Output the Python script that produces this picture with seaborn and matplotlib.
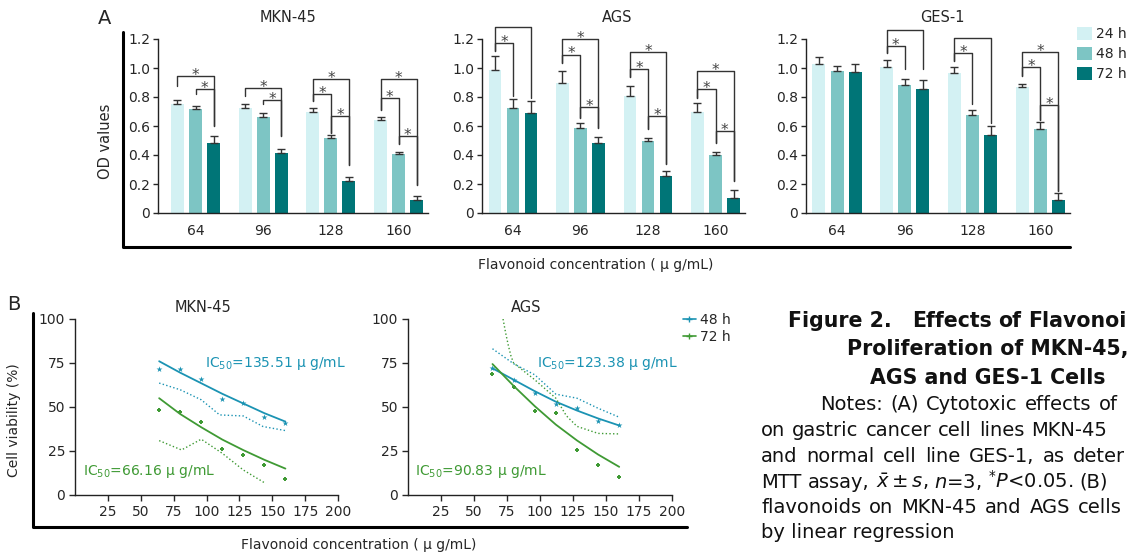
import numpy as np
import pandas as pd
import matplotlib
matplotlib.use('Agg')
import matplotlib.pyplot as plt
import seaborn as sns
from matplotlib.lines import Line2D

# ---- panel A data: OD values (rows = 24 h, 48 h, 72 h; cols = concentrations)
concs = ['64', '96', '128', '160']
times = ['24 h', '48 h', '72 h']
bar_colors = ['#d3f1f3', '#7dc5c4', '#007577']

mkn_od = [[0.754, 0.726, 0.700, 0.644],
          [0.720, 0.664, 0.520, 0.410],
          [0.483, 0.414, 0.223, 0.092]]
mkn_sd = [[0.026, 0.024, 0.024, 0.016],
          [0.020, 0.026, 0.018, 0.008],
          [0.047, 0.030, 0.025, 0.028]]
ags_od = [[0.983, 0.900, 0.805, 0.695],
          [0.722, 0.585, 0.496, 0.400],
          [0.693, 0.482, 0.256, 0.105]]
ags_sd = [[0.097, 0.080, 0.070, 0.062],
          [0.062, 0.039, 0.024, 0.020],
          [0.080, 0.041, 0.032, 0.053]]
ges_od = [[1.031, 1.008, 0.967, 0.871],
          [0.976, 0.880, 0.674, 0.578],
          [0.969, 0.857, 0.537, 0.091]]
ges_sd = [[0.043, 0.048, 0.039, 0.020],
          [0.037, 0.043, 0.037, 0.051],
          [0.057, 0.062, 0.063, 0.046]]

# significance brackets: (conc index, bar i, bar j, bracket height)
mkn_sig = [(0, 0, 2, 0.943), (0, 1, 2, 0.855), (1, 0, 2, 0.862), (1, 1, 2, 0.777),
           (2, 0, 2, 0.924), (2, 0, 1, 0.823), (2, 1, 2, 0.671),
           (3, 0, 2, 0.924), (3, 0, 1, 0.793), (3, 1, 2, 0.533)]
ags_sig = [(0, 0, 2, 1.282), (0, 0, 1, 1.173), (1, 0, 2, 1.200), (1, 0, 1, 1.093), (1, 1, 2, 0.731),
           (2, 0, 2, 1.109), (2, 0, 1, 0.994), (2, 1, 2, 0.670),
           (3, 0, 2, 0.978), (3, 0, 1, 0.853), (3, 1, 2, 0.567)]
ges_sig = [(1, 0, 2, 1.259), (1, 0, 1, 1.150), (2, 0, 2, 1.205), (2, 0, 1, 1.104),
           (3, 0, 2, 1.109), (3, 0, 1, 1.006), (3, 1, 2, 0.747)]
# lower end of bracket legs above each bar (per conc, per time)
mkn_leg = [[0.878, 0.823, 0.600], [0.805, 0.754, 0.529], [0.770, 0.552, 0.333], [0.713, 0.478, 0.195]]
ags_leg = [[1.115, 0.807, 0.795], [1.035, 0.658, 0.583], [0.939, 0.578, 0.338], [0.795, 0.482, 0.224]]
ges_leg = [[1.0, 1.0, 1.0], [1.104, 0.990, 0.990], [1.047, 0.750, 0.624], [0.944, 0.642, 0.149]]

# ---- panel B data: cell viability (%)
b_conc = [64, 80, 96, 112, 128, 144, 160]
mkn_v48 = [71.5, 71.5, 66.0, 54.5, 52.2, 44.6, 40.8]
mkn_v72 = [48.4, 47.4, 41.7, 26.2, 22.8, 17.1, 9.1]
mkn_fit48 = [76.0, 69.5, 63.5, 57.5, 52.0, 46.5, 41.7]
mkn_fit72 = [55.0, 46.0, 38.5, 31.5, 25.5, 20.0, 15.0]
mkn_ci48_x = [64, 80, 96, 110, 128, 143, 160]
mkn_ci48 = [63.6, 59.8, 54.1, 45.5, 44.9, 38.9, 36.6]
mkn_ci72_x = [64, 81, 96, 112, 128, 144]
mkn_ci72 = [30.9, 25.6, 31.7, 23.7, 14.2, 7.0]

ags_v48 = [72.1, 65.3, 57.9, 51.8, 49.3, 42.1, 39.7]
ags_v72 = [68.9, 61.3, 48.0, 46.5, 25.6, 17.1, 10.1]
ags_fit48 = [72.0, 65.5, 59.0, 53.0, 48.0, 43.5, 39.5]
ags_fit72 = [74.4, 62.0, 50.5, 40.0, 31.0, 23.0, 16.0]
ags_ci48_x = [64, 80, 96, 112, 128, 144, 160]
ags_ci48 = [83.1, 74.6, 68.3, 57.3, 55.0, 49.3, 44.2]
ags_ci72_x = [72, 74, 76, 78, 80, 96, 112, 120, 128, 144, 160]
ags_ci72 = [100, 92, 85, 79, 75, 65.5, 55, 45, 39, 35, 34.7]

blue = '#1b93b3'
green = '#3f9a34'

sns.set_style('ticks')
plt.rcParams['font.family'] = ['DejaVu Sans']
plt.rcParams['mathtext.fontset'] = 'dejavusans'

W, H = 1130, 558
fig = plt.figure(figsize=(W / 100, H / 100), dpi=100)
renderer = fig.canvas.get_renderer()


def box(l, r, t, b):
    return [l / W, 1 - b / H, (r - l) / W, (b - t) / H]


def bar_panel(rect, xlim, title, tx, od, sd, sig, leg, legend=False):
    ax = fig.add_axes(rect)
    df = pd.DataFrame({'conc': np.tile(concs, 3), 'time': np.repeat(times, 4),
                       'od': np.ravel(od)})
    sns.barplot(data=df, x='conc', y='od', hue='time', order=concs, hue_order=times,
                palette=bar_colors, saturation=1, width=0.8, gap=0.28, errorbar=None,
                linewidth=0, legend=legend, ax=ax)
    bar_sets = list(ax.containers)[:3]
    centers = [[p.get_x() + p.get_width() / 2 for p in cont] for cont in bar_sets]
    for h in range(3):
        ax.errorbar(centers[h], od[h], yerr=[np.zeros(4), sd[h]], fmt='none', ecolor='#333333',
                    elinewidth=1, capsize=3, capthick=1)
    for g, i, j, y in sig:
        xi, xj = centers[i][g], centers[j][g]
        ax.plot([xi, xi, xj, xj], [leg[g][i], y, y, leg[g][j]], color='#333333',
                lw=1, clip_on=False)
        ax.annotate('*', xy=((xi + xj) / 2, y), xytext=(0, -5), textcoords='offset points',
                    ha='center', va='bottom', fontsize=11, color='#444444')
    ax.set_xlim(xlim)
    ax.set_ylim(0, 1.2)
    ax.set_yticks([0, 0.2, 0.4, 0.6, 0.8, 1.0, 1.2])
    ax.set_yticklabels(['0', '0.2', '0.4', '0.6', '0.8', '1.0', '1.2'])
    ax.set_xlabel('')
    ax.set_ylabel('')
    ax.tick_params(axis='x', length=0, labelsize=10, pad=8)
    ax.tick_params(axis='y', length=3.5, width=1, labelsize=10, pad=2)
    sns.despine(ax=ax)
    for s in ['left', 'bottom']:
        ax.spines[s].set_color('#222222')
        ax.spines[s].set_linewidth(1)
    fig.text(tx / W, 1 - 18 / H, title, ha='center', va='center', fontsize=10.5)
    if legend:
        ax.legend(loc='upper left', bbox_to_anchor=(1077 / W, 1 - 27 / H),
                  bbox_transform=fig.transFigure, frameon=False, fontsize=10,
                  handlelength=1.1, handleheight=1.1, labelspacing=0.4,
                  handletextpad=0.3, borderaxespad=0, borderpad=0)
    return ax


bar_panel(box(158, 428, 39, 213), (-0.554, 3.434), 'MKN-45', 288, mkn_od, mkn_sd, mkn_sig, mkn_leg)
bar_panel(box(482, 745, 39, 213), (-0.459, 3.437), 'AGS', 617, ags_od, ags_sd, ags_sig, ags_leg)
bar_panel(box(806, 1070, 39, 213), (-0.458, 3.440), 'GES-1', 942, ges_od, ges_sd, ges_sig, ges_leg,
          legend=True)

fig.text(105 / W, 1 - 141 / H, 'OD values', rotation=90, ha='center', va='center', fontsize=10.5)
fig.text(596 / W, 1 - 265 / H, 'Flavonoid concentration ( μ g/mL)', ha='center', va='center',
         fontsize=10)
fig.text(105 / W, 1 - 19 / H, 'A', ha='center', va='center', fontsize=14)


def line_panel(rect, title, tx, v48, v72, f48, f72, c48x, c48, c72x, c72, ic48, ic72):
    ax = fig.add_axes(rect)
    sns.lineplot(x=b_conc, y=f48, color=blue, lw=1.3, ax=ax)
    sns.lineplot(x=b_conc, y=f72, color=green, lw=1.3, ax=ax)
    sns.lineplot(x=c48x, y=c48, color=blue, lw=1, ls=':', ax=ax)
    sns.lineplot(x=c72x, y=c72, color=green, lw=1, ls=':', ax=ax)
    sns.scatterplot(x=b_conc, y=v48, color=blue, marker='*', s=20, linewidth=0, ax=ax)
    sns.scatterplot(x=b_conc, y=v72, color=green, marker='P', s=10, linewidth=0, ax=ax)
    ax.set_xlim(0, 200)
    ax.set_ylim(0, 100)
    ax.set_xticks([25, 50, 75, 100, 125, 150, 175, 200])
    ax.set_yticks([0, 25, 50, 75, 100])
    ax.tick_params(length=4, width=1, labelsize=10, pad=3)
    sns.despine(ax=ax)
    for s in ['left', 'bottom']:
        ax.spines[s].set_color('#222222')
        ax.spines[s].set_linewidth(1)
    ax.text(ic48[0], 75, ic48[1], color=blue, fontsize=10, va='center')
    ax.text(ic72[0], 13.3, ic72[1], color=green, fontsize=10, va='center')
    fig.text(tx / W, 1 - 307 / H, title, ha='center', va='center', fontsize=10.5)
    return ax


line_panel(box(75, 338, 319, 495), 'MKN-45', 203, mkn_v48, mkn_v72, mkn_fit48, mkn_fit72,
           mkn_ci48_x, mkn_ci48, mkn_ci72_x, mkn_ci72,
           (99, r'IC$_{50}$=135.51 μ g/mL'), (6, r'IC$_{50}$=66.16 μ g/mL'))
ax_b2 = line_panel(box(408, 672, 319, 495), 'AGS', 526, ags_v48, ags_v72, ags_fit48, ags_fit72,
                   ags_ci48_x, ags_ci48, ags_ci72_x, ags_ci72,
                   (97.4, r'IC$_{50}$=123.38 μ g/mL'), (5.3, r'IC$_{50}$=90.83 μ g/mL'))
ax_b2.legend(handles=[Line2D([], [], color=blue, marker='+', ms=4, lw=1.2),
                      Line2D([], [], color=green, marker='+', ms=4, lw=1.2)],
             labels=['48 h', '72 h'], loc='upper left', bbox_to_anchor=(683 / W, 1 - 313 / H),
             bbox_transform=fig.transFigure, frameon=False, fontsize=10, handlelength=0.9,
             handletextpad=0.3, labelspacing=0.2, borderaxespad=0, borderpad=0)

fig.text(14 / W, 1 - 420 / H, 'Cell viability (%)', rotation=90, ha='center', va='center',
         fontsize=10)
fig.text(359 / W, 1 - 545 / H, 'Flavonoid concentration ( μ g/mL)', ha='center', va='center',
         fontsize=10)
fig.text(14 / W, 1 - 305 / H, 'B', ha='center', va='center', fontsize=14)

# frame lines around the two panels
fig.add_artist(Line2D([123 / W, 123 / W, 1070 / W], [1 - 32 / H, 1 - 247 / H, 1 - 247 / H],
                      transform=fig.transFigure, color='black', lw=2.2))
fig.add_artist(Line2D([33 / W, 33 / W, 687 / W], [1 - 313 / H, 1 - 527 / H, 1 - 527 / H],
                      transform=fig.transFigure, color='black', lw=2.2))


# caption text (justified lines, cut where the figure edge cuts them)
def justify(words, x0, x1, yb, **kw):
    items = [fig.text(0, 1 - yb / H, w, ha='left', va='baseline', **kw) for w in words]
    widths = [t.get_window_extent(renderer).width for t in items]
    gap = (x1 - x0 - sum(widths)) / max(len(words) - 1, 1)
    x = x0
    for t, w in zip(items, widths):
        t.set_x(x / W)
        x += w + gap


bold = dict(fontsize=14.8, fontweight='bold', color='#111111')
fig.text(788 / W, 1 - 327 / H, 'Figure 2.', ha='left', va='baseline', **bold)
justify(['Effects', 'of', 'Flavonoi'], 912, 1126, 327, **bold)
fig.text(988 / W, 1 - 355 / H, 'Proliferation of MKN-45,', ha='center', va='baseline', **bold)
fig.text(988 / W, 1 - 384 / H, 'AGS and GES-1 Cells', ha='center', va='baseline', **bold)

note = dict(fontsize=14, color='#111111')
justify('Notes: (A) Cytotoxic effects of'.split(), 820, 1118, 410, **note)
justify('on gastric cancer cell lines MKN-45'.split(), 761, 1107, 436, **note)
justify('and normal cell line GES-1, as deter'.split(), 761, 1125, 462, **note)
justify(['MTT', 'assay,', r'$\bar{x}\pm s$,', r'$n$=3,', r'$^{*}P$<0.05.', '(B)'],
        761, 1108, 488, **note)
justify('flavonoids on MKN-45 and AGS cells'.split(), 761, 1122, 513, **note)
fig.text(761 / W, 1 - 538 / H, 'by linear regression', ha='left', va='baseline', **note)

fig.savefig('out.png', dpi=100)
